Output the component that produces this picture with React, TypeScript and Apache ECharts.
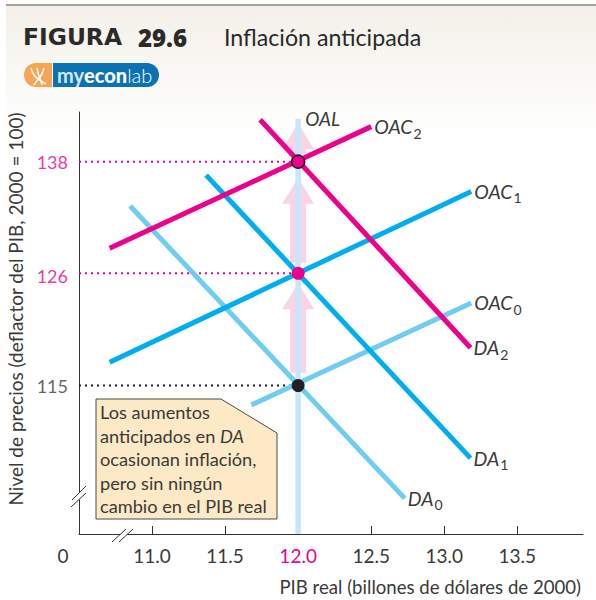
import React, { useEffect, useRef } from "react";
import * as echarts from "echarts";

// ---- data (x: PIB real, y: price level) ----
const xTicks = [11, 11.5, 12, 12.5, 13, 13.5];
const potentialGdp = 12;
const da0 = [[10.85, 133.1], [12.73, 104.9]];
const da1 = [[11.37, 136.5], [13.18, 108.4]];
const da2 = [[11.74, 142.8], [13.18, 118.6]];
const oac0 = [[11.68, 113.2], [13.185, 123.0]];
const oac1 = [[10.71, 117.2], [13.185, 134.7]];
const oac2 = [[10.71, 128.6], [12.5, 142.0]];
const oal = [[12, 101.9], [12, 142.9]];
const priceLevels = [115, 126, 138];
const arrows = [[12, 116.2, 125.0], [12, 127.1, 136.2], [12, 138.8, 142.4]];
const noteLines = ["Los aumentos", "anticipados en {i|DA}", "ocasionan inflación,", "pero sin ningún", "cambio en el PIB real"];

const FONT = "Lato";
const INK = "#3a3a38";
const PINK = "#ec008c";
const MID = "#00aeef";
const LIGHT = "#6fcdf4";

function curve(name: string, data: number[][], color: string, sub: string) {
  const base = name.replace(/\d$/, "");
  return {
    type: "line", name, data, symbol: "none", z: 4, silent: true,
    lineStyle: { color, width: 5, cap: "butt" },
    endLabel: {
      show: true, distance: 3,
      formatter: sub ? `{m|${base}}{s|${sub}}` : `{m|${base}}`,
      rich: {
        m: { fontFamily: FONT, fontStyle: "italic", fontSize: 19.5, color: INK },
        s: { fontFamily: FONT, fontSize: 14, color: INK, verticalAlign: "bottom", padding: [13, 0, 0, 1] },
      },
    },
  };
}

function guide(level: number, color: string) {
  return {
    type: "line", data: [[10.5, level], [potentialGdp, level]], symbol: "none", z: 3, silent: true,
    lineStyle: { color, width: 2, type: [2, 4] },
  };
}

export default function App() {
  const ref = useRef<HTMLDivElement>(null);
  useEffect(() => {
    const chart = echarts.init(ref.current!, null, { renderer: "svg" });
    const levelColor = (v: number) => (v === 115 ? "#231f20" : PINK);
    chart.setOption({
      animation: false,
      grid: { left: 79, right: 13, top: 112, bottom: 66, containLabel: false, outerBoundsMode: "none" },
      xAxis: {
        type: "value", min: 10.5, max: 13.95, interval: 0.5,
        splitLine: { show: false },
        axisLine: { lineStyle: { color: "#333", width: 1 } },
        axisTick: { show: true, inside: true, length: 8, customValues: xTicks, lineStyle: { color: "#333" } },
        axisLabel: {
          customValues: xTicks, margin: 12, fontFamily: FONT, fontSize: 19,
          formatter: (v: number) => (v === potentialGdp ? `{p|${v.toFixed(1)}}` : v.toFixed(1)),
          color: INK,
          rich: { p: { color: PINK, fontFamily: FONT, fontSize: 19 } },
        },
        name: "PIB real (billones de dólares de 2000)",
        nameLocation: "end", nameGap: -2,
        nameTextStyle: { fontFamily: FONT, fontSize: 18.6, color: INK, align: "right", verticalAlign: "top", padding: [43, 0, 0, 0] },
      },
      yAxis: {
        type: "log", logBase: 10, min: 101.9, max: 143.7,
        splitLine: { show: false }, minorSplitLine: { show: false },
        axisLine: { show: true, lineStyle: { color: "#333", width: 1 } },
        axisTick: { show: false }, axisLabel: { show: false },
        name: "Nivel de precios (deflactor del PIB, 2000 = 100)",
        nameLocation: "middle", nameGap: 54, nameRotate: 90,
        nameTextStyle: { fontFamily: FONT, fontSize: 19, color: INK, padding: [0, 0, 0, 28] },
      },
      series: [
        {
          type: "custom", data: arrows, z: 1, silent: true,
          encode: { x: 0, y: [1, 2] },
          renderItem: (_: any, api: any) => {
            const [x, y0] = api.coord([api.value(0), api.value(1)]);
            const [, y1] = api.coord([api.value(0), api.value(2)]);
            const s = 8, h = 16, head = 26;
            return {
              type: "polygon", z2: 1,
              shape: { points: [[x - s, y0], [x - s, y1 + head], [x - h, y1 + head], [x, y1], [x + h, y1 + head], [x + s, y1 + head], [x + s, y0]] },
              style: { fill: "#f9d3e6" },
            };
          },
        },
        {
          type: "line", name: "OAL", data: oal, symbol: "none", z: 2, silent: true,
          lineStyle: { color: "#c5e7f9", width: 5.5, cap: "butt" },
          endLabel: {
            show: true, distance: 7, formatter: "OAL",
            fontFamily: FONT, fontStyle: "italic", fontSize: 19, color: INK,
          },
        },
        guide(115, "#231f20"), guide(126, PINK), guide(138, PINK),
        curve("DA0", da0, LIGHT, "0"), curve("OAC0", oac0, LIGHT, "0"),
        curve("DA1", da1, MID, "1"), curve("OAC1", oac1, MID, "1"),
        curve("DA2", da2, PINK, "2"), curve("OAC2", oac2, PINK, "2"),
        {
          type: "scatter", z: 6, silent: true, symbolSize: 13,
          itemStyle: { opacity: 1 },
          data: priceLevels.map((v) => ({
            value: [potentialGdp, v],
            itemStyle: {
              opacity: 1,
              color: levelColor(v),
              borderColor: v === 138 ? "#231f20" : "transparent",
              borderWidth: v === 138 ? 1.5 : 0,
            },
          })),
        },
        {
          type: "scatter", z: 6, silent: true, symbolSize: 0,
          data: priceLevels.map((v) => ({
            value: [10.5, v],
            label: {
              show: true, position: "left", distance: 11, formatter: String(v),
              offset: [0, v === 126 ? 3 : 0],
              fontFamily: FONT, fontSize: 18, color: v === 115 ? INK : PINK,
            },
          })),
        },
      ],
      graphic: [
        { type: "rect", z: -10, shape: { x: 6, y: 6, width: 590, height: 130 },
          style: { fill: new echarts.graphic.LinearGradient(0, 0, 0, 1, [{ offset: 0, color: "#f2f0e8" }, { offset: 1, color: "#ffffff" }]) } },
        { type: "rect", z: -9, shape: { x: 6, y: 4, width: 590, height: 2 }, style: { fill: "#a3a3a3" } },
        { type: "text", z: 5, x: 23, y: 37, style: {
          text: "{a|FIGURA} {b|29.6}", textVerticalAlign: "middle", fontSize: 23, fontFamily: "Open Sans",
          rich: {
            a: { fontFamily: "DejaVu Sans", fontWeight: 700, fontSize: 23.4, fill: "#2b2a29", color: "#2b2a29", padding: [0, 10, 0, 0] },
            b: { fontFamily: "Open Sans", fontWeight: 800, fontSize: 24, fill: "#2b2a29", color: "#2b2a29" },
          } } },
        { type: "text", z: 5, x: 224, y: 37, style: { text: "Inflación anticipada", fontFamily: FONT, fontSize: 23.2, fill: "#2b2a29", textVerticalAlign: "middle" } },
        // logo
        { type: "rect", z: 5, shape: { x: 24, y: 63, width: 28, height: 24, r: [12, 0, 0, 12] }, style: { fill: "#f7a453" } },
        { type: "rect", z: 5, shape: { x: 53, y: 63, width: 106, height: 24, r: [0, 12, 12, 0] }, style: { fill: "#0b73b4" } },
        { type: "bezierCurve", z: 6, shape: { x1: 31, y1: 68, x2: 46, y2: 84, cpx1: 33, cpy1: 78, cpx2: 40, cpy2: 80 }, style: { stroke: "#fff", fill: "none", lineWidth: 1.5 } },
        { type: "bezierCurve", z: 6, shape: { x1: 44, y1: 68, x2: 34, y2: 85, cpx1: 42, cpy1: 78, cpx2: 36, cpy2: 80 }, style: { stroke: "#fff", fill: "none", lineWidth: 1.5 } },
        { type: "bezierCurve", z: 6, shape: { x1: 37, y1: 68, x2: 42, y2: 85, cpx1: 38, cpy1: 76, cpx2: 41, cpy2: 80 }, style: { stroke: "#fff", fill: "none", lineWidth: 1.5 } },
        { type: "text", z: 6, x: 57, y: 75, style: {
          text: "{a|my}{b|econ}{c|lab}", textVerticalAlign: "middle",
          rich: {
            a: { fontFamily: "Lato", fontWeight: 700, fontSize: 20, fill: "#d7e9f5", color: "#d7e9f5" },
            b: { fontFamily: "Lato", fontWeight: 900, fontSize: 20, fill: "#fff", color: "#fff" },
            c: { fontFamily: "Lato", fontWeight: 300, fontSize: 20, fill: "#fff", color: "#fff" },
          } } },
        // note
        { type: "polygon", z: 5, shape: { points: [[96, 399], [221, 399], [277, 433], [277, 519], [96, 519]] }, style: { fill: "#fde9c6", stroke: "#4a4a48", lineWidth: 1 } },
        ...noteLines.map((t, i) => ({
          type: "text", z: 6, x: 100, y: 412 + i * 23.6,
          style: {
            text: t, fontFamily: FONT, fontSize: 18.2, fill: INK, textVerticalAlign: "middle",
            rich: { i: { fontFamily: FONT, fontStyle: "italic", fontSize: 18.2, fill: INK, color: INK } },
          },
        })),
        { type: "text", z: 6, x: 63, y: 555, style: { text: "0", fontFamily: FONT, fontSize: 19, fill: INK, textAlign: "center", textVerticalAlign: "middle" } },
        // axis breaks
        { type: "polygon", z: 7, shape: { points: [[72, 500], [86, 486], [86, 493], [72, 507]] }, style: { fill: "#fff" } },
        { type: "line", z: 8, shape: { x1: 72, y1: 500, x2: 86, y2: 486 }, style: { stroke: "#333", lineWidth: 1 } },
        { type: "line", z: 8, shape: { x1: 71, y1: 507, x2: 86, y2: 493 }, style: { stroke: "#333", lineWidth: 1 } },
        { type: "polygon", z: 7, shape: { points: [[112, 542], [126, 529], [133, 529], [119, 542]] }, style: { fill: "#fff" } },
        { type: "line", z: 8, shape: { x1: 112, y1: 542, x2: 126, y2: 529 }, style: { stroke: "#333", lineWidth: 1 } },
        { type: "line", z: 8, shape: { x1: 119, y1: 542, x2: 133, y2: 529 }, style: { stroke: "#333", lineWidth: 1 } },
      ],
    });
    return () => chart.dispose();
  }, []);
  return <div ref={ref} style={{ position: "absolute", left: 0, top: 0, width: 596, height: 600 }} />;
}
